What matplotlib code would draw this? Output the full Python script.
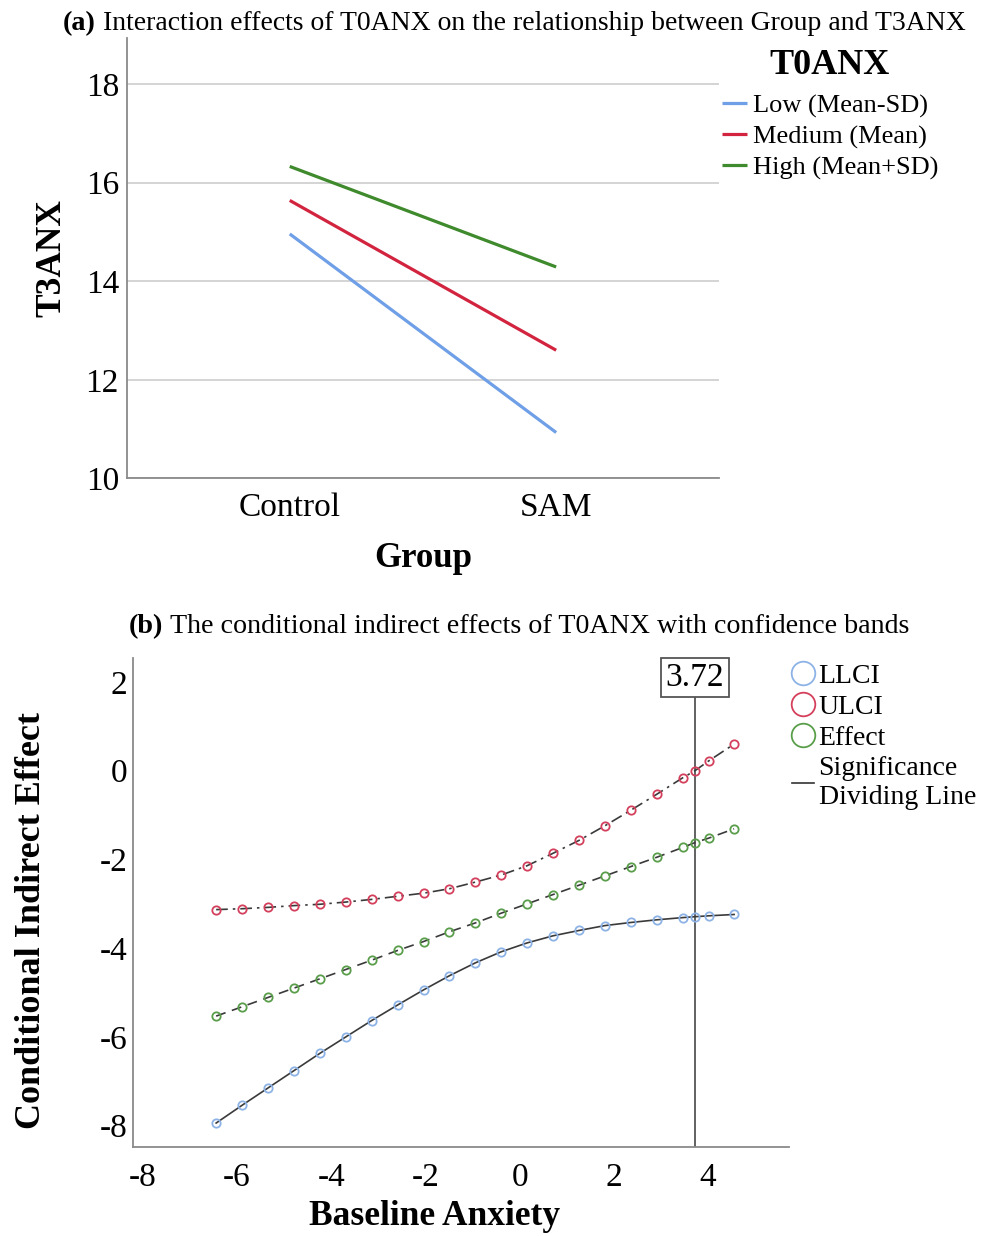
import matplotlib
matplotlib.use("Agg")
import matplotlib.pyplot as plt
from matplotlib.lines import Line2D

plt.rcParams['font.family'] = ['Liberation Serif', 'DejaVu Serif']

# ---------------- data: panel (a) ----------------
groups = ['Control', 'SAM']
low_vals = [14.96, 10.93]
medium_vals = [15.64, 12.60]
high_vals = [16.33, 14.29]
series_labels = ['Low (Mean-SD)', 'Medium (Mean)', 'High (Mean+SD)']
y_ticks_a = [10, 12, 14, 16, 18]

# ---------------- data: panel (b) ----------------
baseline_anx = [-6.44, -5.89, -5.34, -4.79, -4.24, -3.69, -3.14, -2.59, -2.04,
                -1.49, -0.94, -0.39, 0.16, 0.71, 1.26, 1.81, 2.36, 2.91, 3.46,
                3.72, 4.01, 4.55]
llci = [-7.94, -7.54, -7.15, -6.76, -6.37, -6.00, -5.63, -5.28, -4.94, -4.62,
        -4.33, -4.08, -3.88, -3.72, -3.60, -3.49, -3.42, -3.36, -3.31, -3.29,
        -3.27, -3.24]
ulci = [-3.13, -3.11, -3.08, -3.04, -3.01, -2.96, -2.90, -2.83, -2.76, -2.66,
        -2.51, -2.35, -2.14, -1.86, -1.57, -1.24, -0.89, -0.53, -0.16, 0.00,
        0.22, 0.60]
effect = [-5.53, -5.32, -5.11, -4.90, -4.69, -4.48, -4.27, -4.05, -3.85, -3.63,
          -3.43, -3.21, -3.00, -2.79, -2.58, -2.37, -2.16, -1.95, -1.73, -1.62,
          -1.52, -1.31]
jn_point = 3.72
x_ticks_b = [-8, -6, -4, -2, 0, 2, 4]
y_ticks_b = [2, 0, -2, -4, -6, -8]

# ---------------- styling ----------------
c_low = '#6f9fe6'
c_med = '#d2243f'
c_high = '#3e8a2c'
c_ll = '#8db3e6'
c_ul = '#d4405c'
c_ef = '#5a9e4b'
spine_c = '#8a8a8a'
line_c = '#3a3a3a'

fig = plt.figure(figsize=(9.94, 12.36), dpi=100)

# ================= Panel (a) =================
axa = fig.add_axes([0.128, 0.613, 0.595, 0.356])
xpos = list(range(len(groups)))
for vals, col, lab in zip([low_vals, medium_vals, high_vals],
                          [c_low, c_med, c_high], series_labels):
    axa.plot(xpos, vals, color=col, lw=2.3, label=lab, solid_capstyle='butt')
axa.set_xlim(-0.61, 1.61)
axa.set_ylim(10, 18.93)
axa.set_yticks(y_ticks_a)
axa.set_xticks(xpos)
axa.set_xticklabels(groups)
axa.tick_params(axis='both', length=0, labelsize=24, colors='black')
axa.tick_params(axis='x', pad=10)
axa.tick_params(axis='y', pad=6)
axa.yaxis.grid(True, color='#d4d4d4', lw=1.4)
axa.set_axisbelow(True)
for s in ['top', 'right']:
    axa.spines[s].set_visible(False)
for s in ['left', 'bottom']:
    axa.spines[s].set_color(spine_c)
    axa.spines[s].set_linewidth(1.3)
axa.set_xlabel('Group', fontsize=25, fontweight='bold', labelpad=14)
axa.set_ylabel('T3ANX', fontsize=25.5, fontweight='bold', labelpad=12)

fig.text(0.063, 0.981, '(a)', fontsize=20.3, fontweight='bold', ha='left',
         va='center')
fig.text(0.104, 0.981,
         'Interaction effects of T0ANX on the relationship between Group and T3ANX',
         fontsize=20.0, ha='left', va='center')

fig.text(0.835, 0.947, 'T0ANX', fontsize=26, fontweight='bold', ha='center',
         va='center')
fig.legend(handles=axa.get_lines(), labels=series_labels,
           loc='upper left', bbox_to_anchor=(0.726, 0.924),
           frameon=False, fontsize=19,
           handlelength=0.95, handletextpad=0.22, labelspacing=0.27,
           borderaxespad=0, borderpad=0)

# ================= Panel (b) =================
axb = fig.add_axes([0.134, 0.072, 0.660, 0.396])
axb.plot(baseline_anx, llci, color=line_c, lw=1.2, ls='-', zorder=2)
axb.plot(baseline_anx, effect, color=line_c, lw=1.2, dashes=(6, 4), zorder=2)
axb.plot(baseline_anx, ulci, color=line_c, lw=1.2, dashes=(7, 3, 1.5, 3),
         zorder=2)
axb.plot(baseline_anx, llci, ls='none', marker='o', ms=6, mfc='none',
         mec=c_ll, mew=1.3, zorder=3)
axb.plot(baseline_anx, effect, ls='none', marker='o', ms=6, mfc='none',
         mec=c_ef, mew=1.3, zorder=3)
axb.plot(baseline_anx, ulci, ls='none', marker='o', ms=6, mfc='none',
         mec=c_ul, mew=1.3, zorder=3)
axb.axvline(jn_point, color='#555555', lw=1.3, zorder=1)
axb.text(jn_point, 2.1, f'{jn_point:.2f}', fontsize=24, ha='center',
         va='center', zorder=4,
         bbox=dict(boxstyle='square,pad=0.13', fc='white', ec='#555555',
                   lw=1.3))
axb.set_xlim(-8.2, 5.72)
axb.set_ylim(-8.48, 2.55)
axb.set_xticks(x_ticks_b)
axb.set_yticks(y_ticks_b)
axb.set_xticklabels([str(v) for v in x_ticks_b])
axb.set_yticklabels([str(v) for v in y_ticks_b])
axb.tick_params(axis='both', length=0, labelsize=24, colors='black')
axb.tick_params(axis='x', pad=11)
axb.tick_params(axis='y', pad=4)
for s in ['top', 'right']:
    axb.spines[s].set_visible(False)
for s in ['left', 'bottom']:
    axb.spines[s].set_color(spine_c)
    axb.spines[s].set_linewidth(1.3)
axb.set_xlabel('Baseline Anxiety', fontsize=25.5, fontweight='bold')
axb.xaxis.set_label_coords(0.46, -0.108)
axb.set_ylabel('Conditional Indirect Effect', fontsize=26, fontweight='bold')
axb.yaxis.set_label_coords(-0.13, 0.463)

fig.text(0.13, 0.493, '(b)', fontsize=20.3, fontweight='bold', ha='left',
         va='center')
fig.text(0.171, 0.493,
         'The conditional indirect effects of T0ANX with confidence bands',
         fontsize=20.2, ha='left', va='center')

leg_handles = [
    Line2D([], [], ls='none', marker='o', ms=17, mfc='none', mec=c_ll, mew=1.3),
    Line2D([], [], ls='none', marker='o', ms=17, mfc='none', mec=c_ul, mew=1.3),
    Line2D([], [], ls='none', marker='o', ms=17, mfc='none', mec=c_ef, mew=1.3),
    Line2D([], [], color='#333333', lw=1.2),
]
leg_labels = ['LLCI', 'ULCI', 'Effect', 'Significance\nDividing Line']
fig.legend(handles=leg_handles, labels=leg_labels, loc='upper left',
           bbox_to_anchor=(0.797, 0.463), frameon=False, fontsize=20,
           handlelength=0.8, handletextpad=0.15, labelspacing=0.19,
           borderaxespad=0, borderpad=0)

fig.savefig('out.png', dpi=100)
